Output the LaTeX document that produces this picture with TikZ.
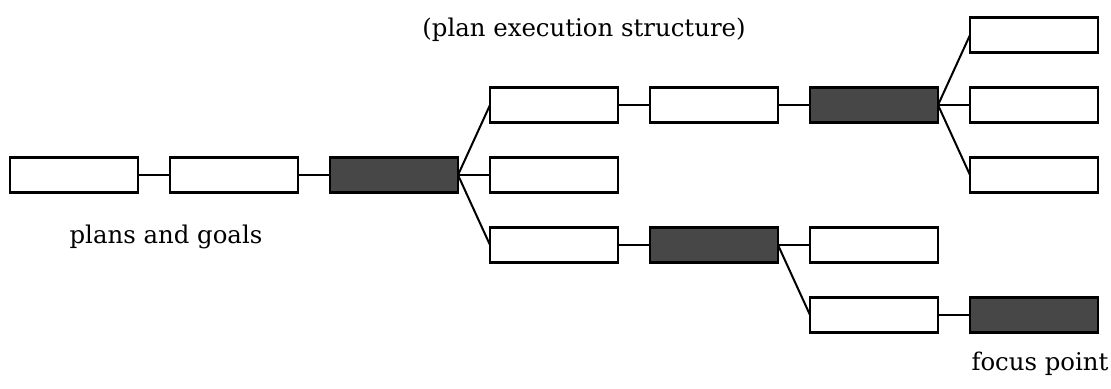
\documentclass[tikz,border=0pt]{standalone}
\usepackage{fontspec}
\setmainfont{DejaVu Serif}
\usepackage{tikz}
\usetikzlibrary{positioning}

\tikzset{
    plan/.style={draw, line width=1.3pt, minimum width=64pt, minimum height=17.5pt, inner sep=0pt, outer sep=0pt, fill=white},
    focus/.style={plan, fill=black!72},
    link/.style={line width=1pt},
    caption/.style={font=\fontsize{12.2}{14}\selectfont, inner sep=0pt, anchor=base}
}

\begin{document}
\begin{tikzpicture}[x=0.5pt, y=-0.5pt, node distance=17.5pt and 16pt]
    \useasboundingbox (0,0) rectangle (1111,388);
    % main line of plans and goals
    \node (A) [plan] at (74,175) {};
    \node (B) [plan, right=of A] {};
    \node (C) [focus, right=of B] {};
    % first branching
    \node (G) [plan, right=of C] {};
    \node (D) [plan, above=of G] {};
    \node (I) [plan, below=of G] {};
    \node (E) [plan, right=of D] {};
    \node (F) [focus, right=of E] {};
    \node (H2) [plan, right=of F] {};
    \node (H1) [plan, above=of H2] {};
    \node (H3) [plan, below=of H2] {};
    \node (J) [focus, right=of I] {};
    \node (K) [plan, right=of J] {};
    \node (L) [plan, below=of K] {};
    \node (M) [focus, right=of L] {};
    % connections
    \draw [link] (A) -- (B);
    \draw [link] (B) -- (C);
    \draw [link] (C.east) -- (D.west);
    \draw [link] (C.east) -- (G.west);
    \draw [link] (C.east) -- (I.west);
    \draw [link] (D) -- (E);
    \draw [link] (E) -- (F);
    \draw [link] (F.east) -- (H1.west);
    \draw [link] (F.east) -- (H2.west);
    \draw [link] (F.east) -- (H3.west);
    \draw [link] (I) -- (J);
    \draw [link] (J.east) -- (K.west);
    \draw [link] (J.east) -- (L.west);
    \draw [link] (L) -- (M);
    % labels
    \node (struct) [caption] at (584,36) {(plan execution structure)};
    \node (goals) [caption] at (166,243) {plans and goals};
    \node (point) [caption] at (1040,370) {focus point};
\end{tikzpicture}
\end{document}
